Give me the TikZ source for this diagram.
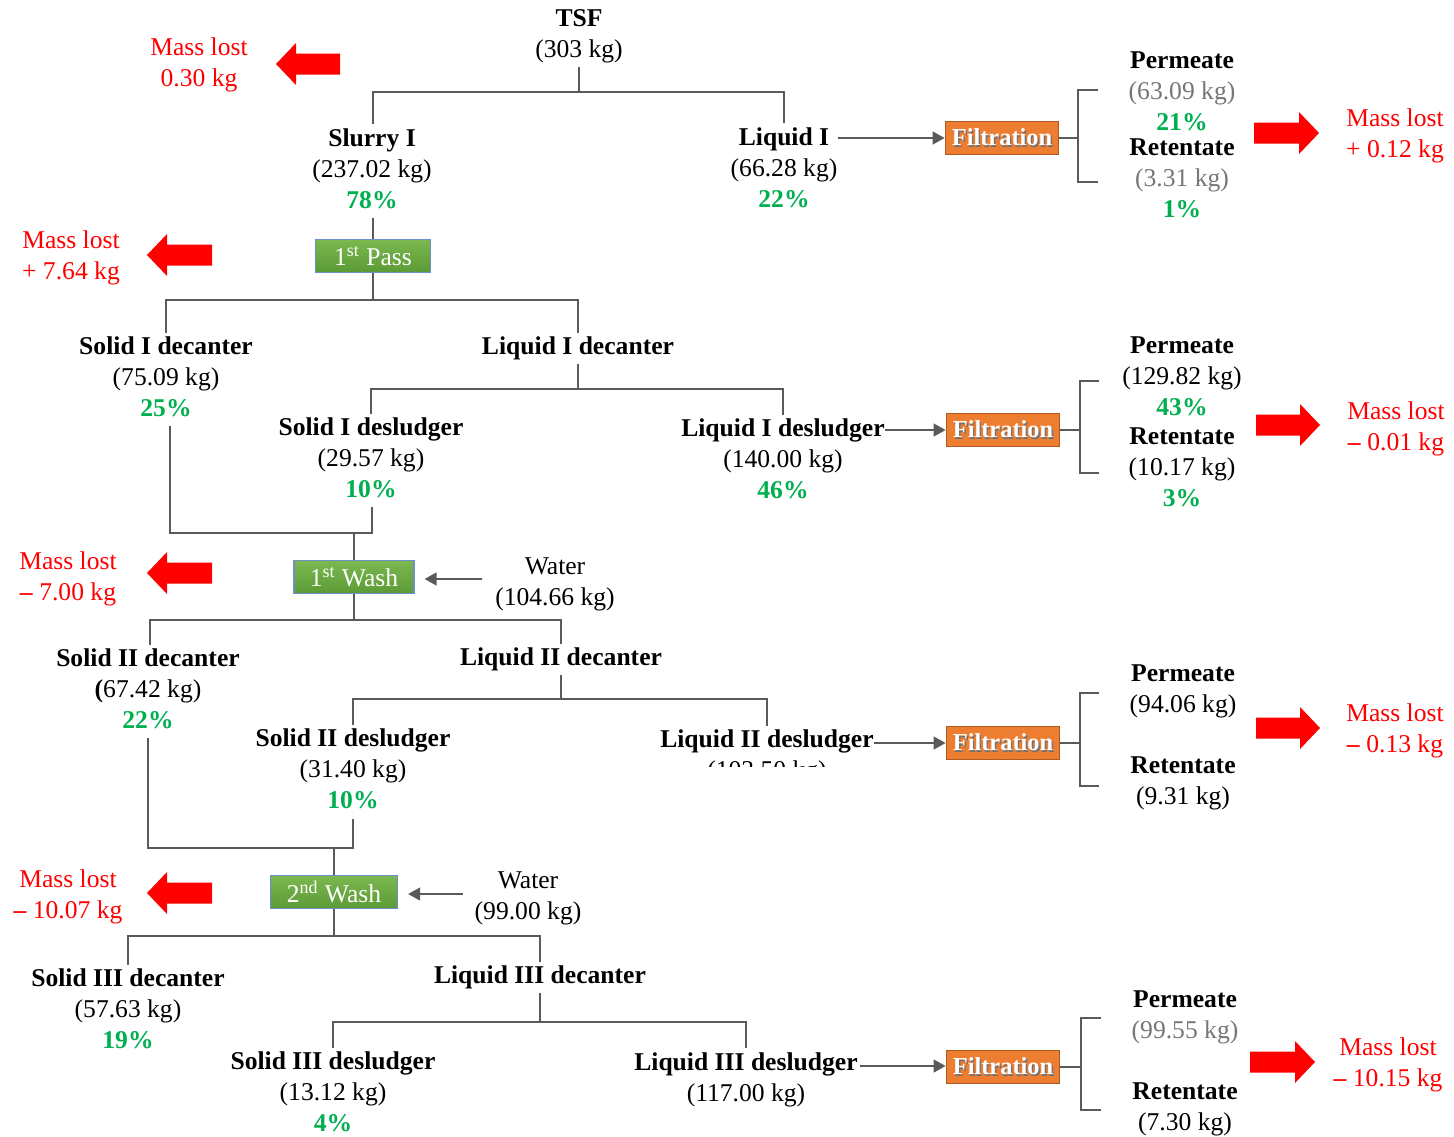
\documentclass[tikz,border=0pt]{standalone}
\usepackage{fontspec}
\setmainfont{Liberation Serif}
\usetikzlibrary{arrows.meta,calc}

\definecolor{lngray}{HTML}{5A5A5A}
\definecolor{pctgreen}{HTML}{00B050}
\definecolor{lossred}{HTML}{FF0000}
\definecolor{filtfill}{HTML}{ED7D31}
\definecolor{filtdraw}{HTML}{B0591E}
\definecolor{stagetop}{HTML}{7BB84F}
\definecolor{stagebot}{HTML}{5C9A36}
\definecolor{stageedge}{HTML}{6F8FC8}
\definecolor{faint}{HTML}{767676}

% text helpers: bold stream name, green percentage
\newcommand\stname[1]{\textbf{#1}\strut}
\newcommand\pct[1]{\textcolor{pctgreen}{\textbf{#1\%}}\strut}
% white filtration label with a soft drop shadow
\newcommand\filtlabel{\rlap{\kern0.7pt\raisebox{-0.7pt}{\textcolor{black!55}{Filtration}}}Filtration}
% big red block arrows: tip x, y, tail x  /  tail x, y, tip x
\newcommand\lossleft[3]{%
  \fill[lossred] (#1,#2) -- (#1+20,#2-21) -- (#1+20,#2-10.5) -- (#3,#2-10.5)
    -- (#3,#2+10.5) -- (#1+20,#2+10.5) -- (#1+20,#2+21) -- cycle;}
\newcommand\lossright[3]{%
  \fill[lossred] (#1,#2-10.5) -- (#3-20,#2-10.5) -- (#3-20,#2-21) -- (#3,#2)
    -- (#3-20,#2+21) -- (#3-20,#2+10.5) -- (#1,#2+10.5) -- cycle;}

\tikzset{
  txt/.style={align=center, inner sep=0pt, font=\fontsize{12.8}{15.5}\selectfont},
  lossl/.style={txt, text=lossred},
  ln/.style={draw=lngray, line width=0.65pt},
  arr/.style={ln, -{Triangle[length=6pt,width=6.5pt]}},
  filt/.style={draw=filtdraw, line width=0.9pt, fill=filtfill, minimum width=56.5pt,
    minimum height=16.5pt, inner sep=0pt, text=white,
    font=\fontsize{12.2}{15.5}\selectfont\bfseries},
  stage/.style={draw=stageedge, line width=0.6pt, top color=stagetop, bottom color=stagebot,
    minimum height=16.5pt, inner sep=0pt, text=white,
    font=\fontsize{12.8}{15.5}\selectfont},
}

\begin{document}
\begin{tikzpicture}[x=0.5pt,y=-0.5pt]
\fill[white] (0,0) rectangle (1454,1136);
\useasboundingbox (0,0) rectangle (1454,1136);

% ---- feed split ----
\node[txt] (tsf) at (579,36) {\stname{TSF}\\(303 kg)\strut};
\node[txt] (slurry) at (372,171) {\stname{Slurry I}\\(237.02 kg)\strut\\\pct{78}};
\node[txt] (liq1) at (784,170) {\stname{Liquid I}\\(66.28 kg)\strut\\\pct{22}};
\node[filt] (f1) at (1002,138) {\filtlabel};
\node[txt] (perm1) at (1182,93.4) {\stname{Permeate}\\\textcolor{faint}{(63.09 kg)}\strut\\\pct{21}};
\node[txt] (ret1) at (1182,180.4) {\stname{Retentate}\\\textcolor{faint}{(3.31 kg)}\strut\\\pct{1}};

% ---- first pass ----
\node[stage, minimum width=57.5pt] (pass1) at (373,256) {1\textsuperscript{st} Pass};
\node[txt] (sid1) at (166,379.4) {\stname{Solid I decanter}\\(75.09 kg)\strut\\\pct{25}};
\node[txt] (lid1) at (578,348.4) {\stname{Liquid I decanter}};
\node[txt] (sids1) at (371,460.4) {\stname{Solid I desludger}\\(29.57 kg)\strut\\\pct{10}};
\node[txt] (lids1) at (783,461.4) {\stname{Liquid I desludger}\\(140.00 kg)\strut\\\pct{46}};
\node[filt] (f2) at (1003,430) {\filtlabel};
\node[txt] (perm2) at (1182,378.4) {\stname{Permeate}\\(129.82 kg)\strut\\\pct{43}};
\node[txt] (ret2) at (1182,469.4) {\stname{Retentate}\\(10.17 kg)\strut\\\pct{3}};

% ---- first wash ----
\node[stage, minimum width=60pt] (wash1) at (354,577) {1\textsuperscript{st} Wash};
\node[txt] (water1) at (555,583.4) {Water\strut\\(104.66 kg)\strut};
\node[txt] (sid2) at (148,691.4) {\stname{Solid II decanter}\\\textbf{(}67.42 kg)\strut\\\pct{22}};
\node[txt] (lid2) at (561,659.4) {\stname{Liquid II decanter}};
\node[txt] (sids2) at (353,771.7) {\stname{Solid II desludger}\\(31.40 kg)\strut\\\pct{10}};
\node[txt] (lids2) at (767,741.4) {\stname{Liquid II desludger}};
\begin{scope}
  \clip (680,740) rectangle (860,766.5);
  \node[txt] (lids2kg) at (767,772.4) {(103.50 kg)\strut};
\end{scope}
\node[filt] (f3) at (1003,743) {\filtlabel};
\node[txt] (perm3) at (1183,690.4) {\stname{Permeate}\\(94.06 kg)\strut};
\node[txt] (ret3) at (1183,782.4) {\stname{Retentate}\\(9.31 kg)\strut};

% ---- second wash ----
\node[stage, minimum width=63.5pt] (wash2) at (334,892) {2\textsuperscript{nd} Wash};
\node[txt] (water2) at (528,897.4) {Water\strut\\(99.00 kg)\strut};
\node[txt] (sid3) at (128,1011.7) {\stname{Solid III decanter}\\(57.63 kg)\strut\\\pct{19}};
\node[txt] (lid3) at (540,977.4) {\stname{Liquid III decanter}};
\node[txt] (sids3) at (333,1094.4) {\stname{Solid III desludger}\\(13.12 kg)\strut\\\pct{4}};
\node[txt] (lids3) at (746,1079.4) {\stname{Liquid III desludger}\\(117.00 kg)\strut};
\node[filt] (f4) at (1003,1067) {\filtlabel};
\node[txt] (perm4) at (1185,1016.4) {\stname{Permeate}\\\textcolor{faint}{(99.55 kg)}\strut};
\node[txt] (ret4) at (1185,1108.4) {\stname{Retentate}\\(7.30 kg)\strut};

% ---- mass balance losses ----
\node[lossl] (ml0) at (199,64.9) {Mass lost\strut\\0.30 kg\strut};
\node[lossl] (ml1) at (71,258) {Mass lost\strut\\+ 7.64 kg\strut};
\node[lossl] (ml2) at (68,578.9) {Mass lost\strut\\\textbf{–} 7.00 kg\strut};
\node[lossl] (ml3) at (68,896.9) {Mass lost\strut\\\textbf{–} 10.07 kg\strut};
\node[lossl] (mr1) at (1395,135.9) {Mass lost\strut\\+ 0.12 kg\strut};
\node[lossl] (mr2) at (1396,428.9) {Mass lost\strut\\\textbf{–} 0.01 kg\strut};
\node[lossl] (mr3) at (1395,730.9) {Mass lost\strut\\\textbf{–} 0.13 kg\strut};
\node[lossl] (mr4) at (1388,1064.9) {Mass lost\strut\\\textbf{–} 10.15 kg\strut};

\lossleft{276}{64}{340}
\lossleft{147}{255}{212}
\lossleft{147}{573}{212}
\lossleft{147}{893}{212}
\lossright{1254}{133}{1319}
\lossright{1256}{425}{1320}
\lossright{1256}{728}{1320}
\lossright{1250}{1062}{1315}

% ---- tree connectors ----
\coordinate (j1) at (579,92);
\draw[ln] (tsf.south) -- (j1);
\draw[ln] (pass1.north |- slurry.north) |- (j1) -| (liq1.north);
\draw[ln] (pass1.north |- slurry.south) -- (pass1.north);
\coordinate (j2) at (373,300);
\draw[ln] (pass1.south) -- (j2);
\draw[ln] (sid1.north) |- (j2) -| (lid1.north);
\coordinate (j3) at (578,389);
\draw[ln] (lid1.south) -- (j3);
\draw[ln] (sids1.north) |- (j3) -| (lids1.north);

\coordinate (j4l) at (170,533);
\coordinate (j4r) at (372,533);
\draw[ln] (j4l |- sid1.south) -- (j4l) -- (j4r) -- (j4r |- sids1.south);
\draw[ln] (j4l -| wash1.north) -- (wash1.north);
\coordinate (j5) at (354,620);
\draw[ln] (wash1.south) -- (j5);
\draw[ln] ([xshift=1pt]sid2.north) |- (j5) -| (lid2.north);
\coordinate (j6) at (561,699);
\draw[ln] (lid2.south) -- (j6);
\draw[ln] (sids2.north) |- (j6) -| (lids2.north);

\coordinate (j7l) at (148,848);
\coordinate (j7r) at (353,848);
\draw[ln] (sid2.south) -- (j7l) -- (j7r) -- (sids2.south);
\draw[ln] (j7l -| wash2.north) -- (wash2.north);
\coordinate (j8) at (334,936);
\draw[ln] (wash2.south) -- (j8);
\draw[ln] (sid3.north) |- (j8) -| (lid3.north);
\coordinate (j9) at (540,1022);
\draw[ln] (lid3.south) -- (j9);
\draw[ln] (sids3.north) |- (j9) -| (lids3.north);

% ---- water feeds ----
\draw[arr, shorten <=6.5pt, shorten >=5pt] (water1.west |- 0,579) -- (wash1.east |- 0,579);
\draw[arr, shorten <=5.5pt, shorten >=5pt] (water2.west |- 0,894) -- (wash2.east |- 0,894);

% ---- streams to filtration ----
\draw[arr] (liq1.east |- f1.west) -- (f1.west);
\draw[arr] (lids1.east |- f2.west) -- (f2.west);
\draw[arr] (lids2.east |- f3.west) -- (f3.west);
\draw[arr, shorten <=1pt] (lids3.east |- 0,1066) -- (f4.west |- 0,1066);

% ---- filtration brackets ----
\coordinate (b1) at (1078,138);
\coordinate (b1t) at (1098,90);
\coordinate (b1b) at (1098,182);
\draw[ln] (f1.east) -- (b1);
\draw[ln] (b1t) -| (b1) |- (b1b);
\coordinate (b2) at (1080,430);
\coordinate (b2t) at (1099,381);
\coordinate (b2b) at (1099,473);
\draw[ln] (f2.east) -- (b2);
\draw[ln] (b2t) -| (b2) |- (b2b);
\coordinate (b3) at (1080,743);
\coordinate (b3t) at (1099,693);
\coordinate (b3b) at (1099,786);
\draw[ln] (f3.east) -- (b3);
\draw[ln] (b3t) -| (b3) |- (b3b);
\coordinate (b4) at (1081,1067);
\coordinate (b4t) at (1101,1018);
\coordinate (b4b) at (1101,1110);
\draw[ln] (f4.east) -- (b4);
\draw[ln] (b4t) -| (b4) |- (b4b);
\end{tikzpicture}
\end{document}
